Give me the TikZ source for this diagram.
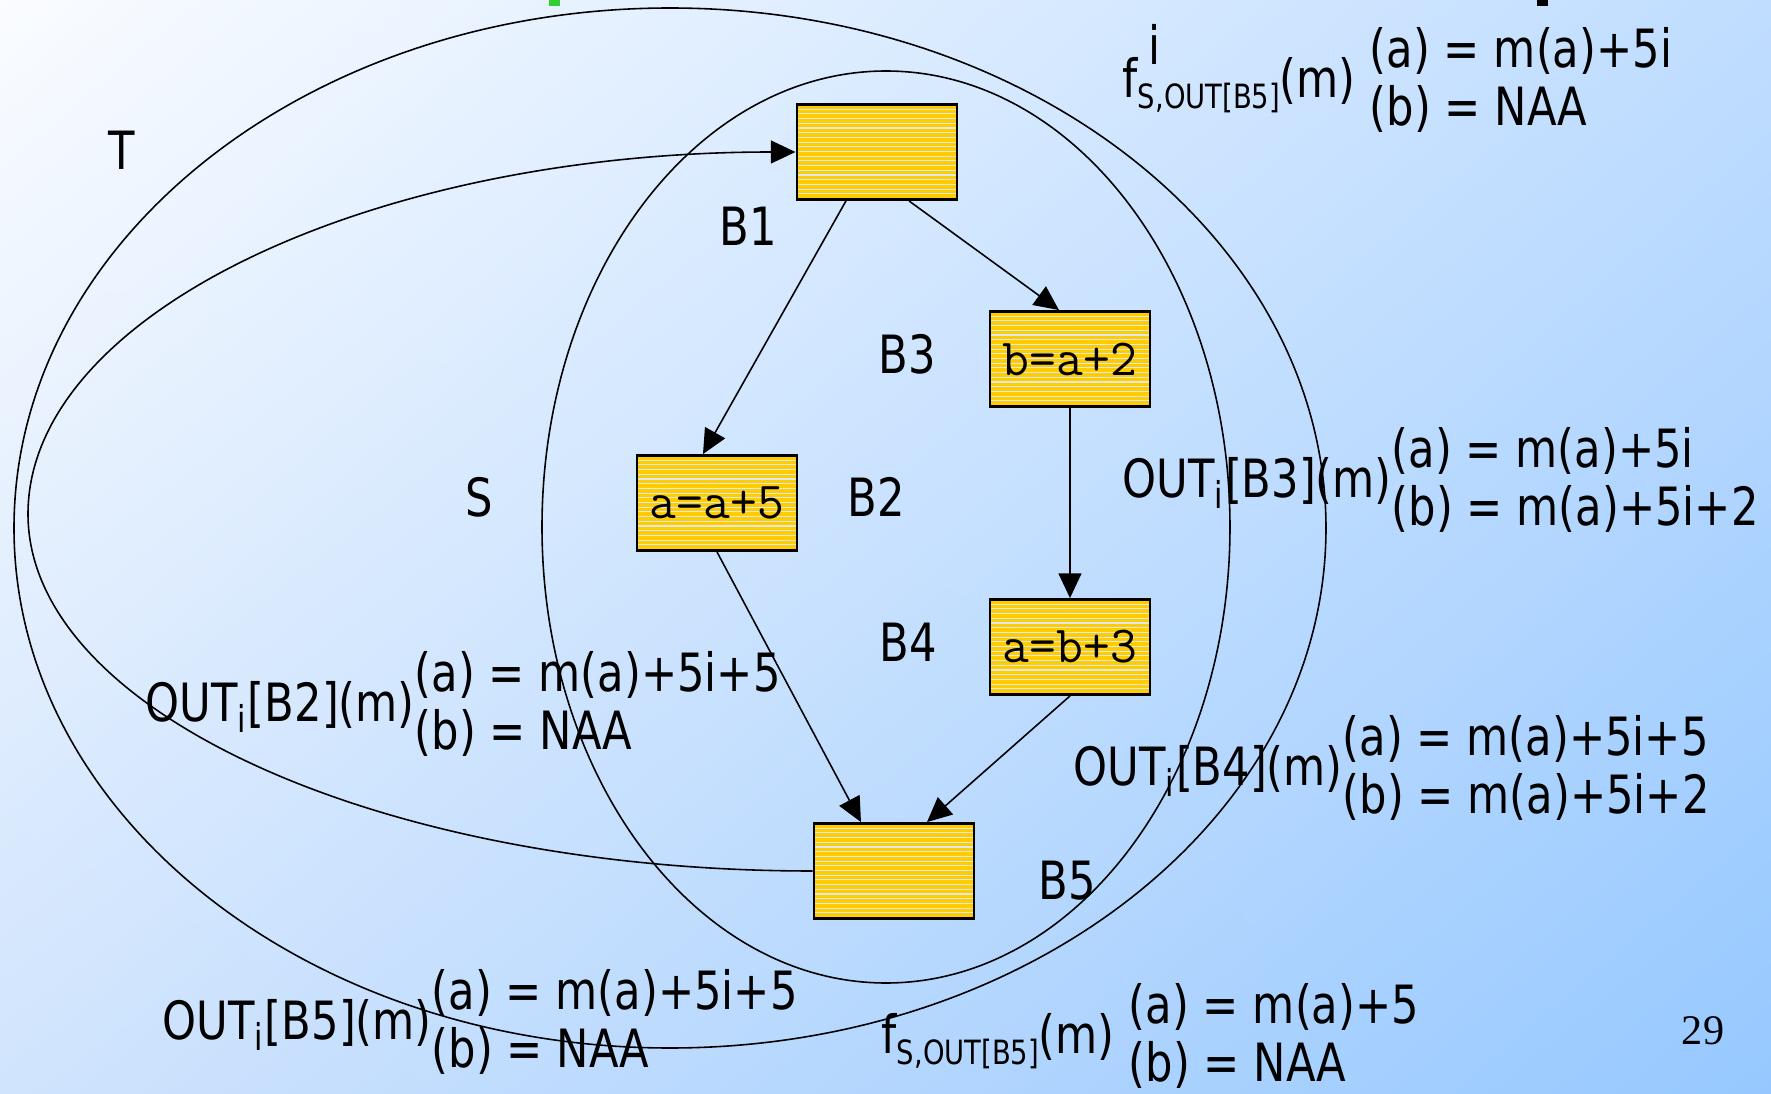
\documentclass[tikz,border=0pt]{standalone}
\usepackage{fontspec}
\setmainfont{DejaVu Sans}[FakeStretch=0.82]
\newfontfamily\pagefont{Liberation Serif}
\usetikzlibrary{arrows.meta, shadings}

\definecolor{bgTL}{RGB}{250,252,255}
\definecolor{bgTR}{RGB}{192,221,255}
\definecolor{bgBL}{RGB}{208,228,253}
\definecolor{bgBR}{RGB}{150,200,255}
\definecolor{blockfill}{RGB}{255,204,0}
\definecolor{stripecol}{RGB}{222,232,240}
\definecolor{titlegreen}{RGB}{51,204,51}

\newcommand{\subfont}{\fontsize{9.5}{11}\selectfont}
\newcommand{\eqpair}[2]{\begin{tabular}{@{}l@{}}#1\\#2\end{tabular}}

\tikzset{
  block/.style={rectangle, draw=black, line width=0.8pt, fill=blockfill, minimum width=1.6cm, minimum height=0.95cm, inner sep=0pt, font=\ttfamily\fontsize{14.8}{17}\selectfont,
    path picture={\foreach \k in {1,...,20}
      \draw[draw=stripecol, line width=0.3pt] ([yshift=-\k*0.047cm]path picture bounding box.north west) -- ([yshift=-\k*0.047cm]path picture bounding box.north east);}},
  arrow/.style={line width=0.45pt, -{Triangle[length=7pt, width=6.5pt]}},
  ring/.style={line width=0.45pt},
  lbl/.style={inner sep=0pt, font=\fontsize{15}{16.4}\selectfont},
  eqn/.style={lbl, anchor=west}
}

\begin{document}
\begin{tikzpicture}[x=0.01cm, y=-0.01cm]
  % background
  \shade[upper left=bgTL, upper right=bgTR, lower left=bgBL, lower right=bgBR] (0,0) rectangle (1771,1094);
  \useasboundingbox (0,0) rectangle (1771,1094);
  \fill[titlegreen] (549,0) rectangle (560,6);
  \fill[black] (1537,0) rectangle (1548,6);

  % regions T and S
  \draw[ring] (670,528) ellipse [x radius=656, y radius=520];
  \draw[ring] (886,527) ellipse [x radius=344, y radius=456];
  \node[lbl] (T) at (122,150) {T};
  \node[lbl] (S) at (479,497) {S};

  % blocks
  \node[block] (B1) at (877,152) {};
  \node[block] (B3) at (1070,359) {b=a+2};
  \node[block] (B2) at (717,503) {a=a+5};
  \node[block] (B4) at (1070,647) {a=b+3};
  \node[block] (B5) at (894,871) {};
  \node[lbl] (nB1) at (748,226) {B1};
  \node[lbl] (nB3) at (907,354) {B3};
  \node[lbl] (nB2) at (876,497) {B2};
  \node[lbl] (nB4) at (908,642) {B4};
  \node[lbl] (nB5) at (1067,881) {B5};
  \coordinate (turn) at (28,514);

  % flow edges
  \draw[arrow] ([xshift=-0.31cm]B1.south) -- ([xshift=-0.14cm]B2.north);
  \draw[arrow] ([xshift=0.32cm]B1.south) -- ([xshift=-0.11cm]B3.north);
  \draw[arrow] (B3.south) -- (B4.north);
  \draw[arrow] (B2.south) -- ([xshift=-0.33cm]B5.north);
  \draw[arrow] (B4.south) -- ([xshift=0.33cm]B5.north);
  \draw[arrow] (B5.west) .. controls +(-434,0) and +(0,197) .. (turn)
    .. controls +(0,-200) and +(-425,0) .. (B1.west);

  % data flow values
  \node[eqn] (fT) at (1122,85) {f\rlap{\smash{\raisebox{9.5pt}{\hspace{3pt}i}}}\raisebox{-3pt}{\subfont S,OUT[B5]}(m)\hspace{4pt}\eqpair{(a) = m(a)+5i}{(b) = NAA}};
  \node[eqn] (oB3) at (1122,485) {OUT\textsubscript{i}[B3](m)\eqpair{(a) = m(a)+5i}{(b) = m(a)+5i+2}};
  \node[eqn] (oB4) at (1073,773) {OUT\textsubscript{i}[B4](m)\eqpair{(a) = m(a)+5i+5}{(b) = m(a)+5i+2}};
  \node[eqn] (oB2) at (145,709) {OUT\textsubscript{i}[B2](m)\eqpair{(a) = m(a)+5i+5}{(b) = NAA}};
  \node[eqn] (oB5) at (162,1027) {OUT\textsubscript{i}[B5](m)\eqpair{(a) = m(a)+5i+5}{(b) = NAA}};
  \node[eqn] (fS) at (881,1041) {f\raisebox{-3pt}{\subfont S,OUT[B5]}(m)\hspace{4pt}\eqpair{(a) = m(a)+5}{(b) = NAA}};
  \node[inner sep=0pt, font=\pagefont\fontsize{12}{14}\selectfont] (page) at (1703,1031) {29};
\end{tikzpicture}
\end{document}
